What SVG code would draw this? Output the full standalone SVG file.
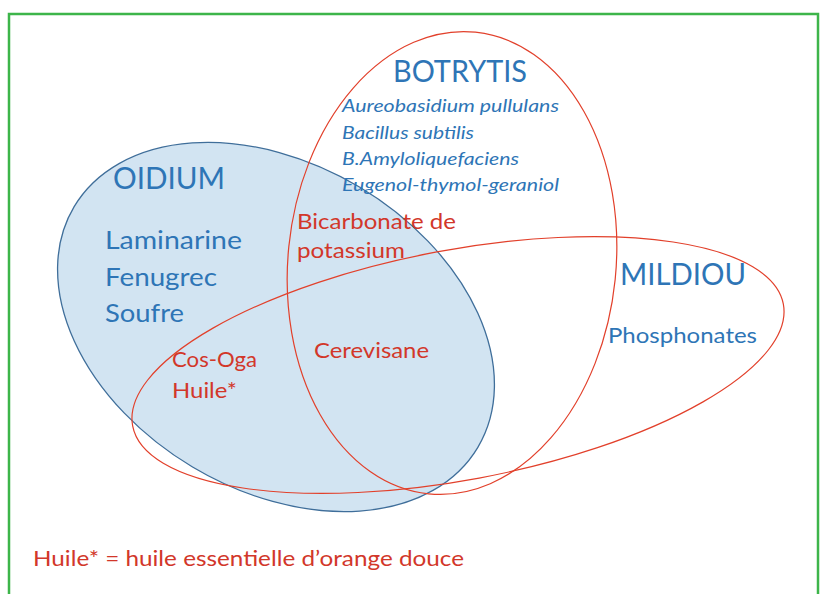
<svg xmlns="http://www.w3.org/2000/svg" width="823" height="594" viewBox="0 0 823 594">
<style>
.frame{fill:none;stroke:#3DB54A;stroke-width:2.5}
.oid{fill:#D2E4F2;stroke:#3F6E9A;stroke-width:1.3}
.red{fill:none;stroke:#E2402B;stroke-width:1.2}
text{font-family:Lato,"Open Sans","Liberation Sans",sans-serif}
.b{fill:#2E75B6}
.r{fill:#D2372A}
.it{font-style:italic;font-size:18px}
.title{font-size:30px}
.lg{font-size:25.5px}
.md{font-size:22px}
</style>
<rect class="frame" x="9" y="14" width="809" height="600"/>
<g id="oidium">
<ellipse class="oid" cx="276" cy="327" rx="235" ry="163" transform="rotate(30.8 276 327)"/>
<text class="b title" x="113" y="189" textLength="112" lengthAdjust="spacingAndGlyphs">OIDIUM</text>
<text class="b lg" x="105" y="249" textLength="137" lengthAdjust="spacingAndGlyphs">Laminarine</text>
<text class="b lg" x="105" y="286" textLength="112" lengthAdjust="spacingAndGlyphs">Fenugrec</text>
<text class="b lg" x="105" y="322" textLength="79" lengthAdjust="spacingAndGlyphs">Soufre</text>
</g>
<g id="botrytis">
<ellipse class="red" cx="452" cy="263" rx="164" ry="232" transform="rotate(5.8 452 263)"/>
<text class="b title" x="393" y="82" textLength="134" lengthAdjust="spacingAndGlyphs">BOTRYTIS</text>
<text class="b it" x="342" y="112" textLength="217" lengthAdjust="spacingAndGlyphs">Aureobasidium pullulans</text>
<text class="b it" x="342" y="139" textLength="132" lengthAdjust="spacingAndGlyphs">Bacillus subtilis</text>
<text class="b it" x="342" y="165" textLength="177" lengthAdjust="spacingAndGlyphs">B.Amyloliquefaciens</text>
<text class="b it" x="342" y="191" textLength="217" lengthAdjust="spacingAndGlyphs">Eugenol-thymol-geraniol</text>
</g>
<g id="mildiou">
<ellipse class="red" cx="458" cy="365" rx="331" ry="115" transform="rotate(-10.6 458 365)"/>
<text class="b title" x="620" y="285" textLength="126" lengthAdjust="spacingAndGlyphs">MILDIOU</text>
<text class="b md" x="608" y="343" textLength="149" lengthAdjust="spacingAndGlyphs">Phosphonates</text>
</g>
<g id="oidium-botrytis">
<text class="r md" x="297" y="229" textLength="159" lengthAdjust="spacingAndGlyphs">Bicarbonate de</text>
<text class="r md" x="297" y="258" textLength="108" lengthAdjust="spacingAndGlyphs">potassium</text>
</g>
<g id="oidium-mildiou">
<text class="r md" x="172" y="367" textLength="85" lengthAdjust="spacingAndGlyphs">Cos-Oga</text>
<text class="r md" x="172" y="398" textLength="65" lengthAdjust="spacingAndGlyphs">Huile*</text>
</g>
<g id="center">
<text class="r md" x="314" y="358" textLength="115" lengthAdjust="spacingAndGlyphs">Cerevisane</text>
</g>
<g id="legend">
<text class="r md" x="33" y="566" textLength="431" lengthAdjust="spacingAndGlyphs">Huile* = huile essentielle d’orange douce</text>
</g>
</svg>
